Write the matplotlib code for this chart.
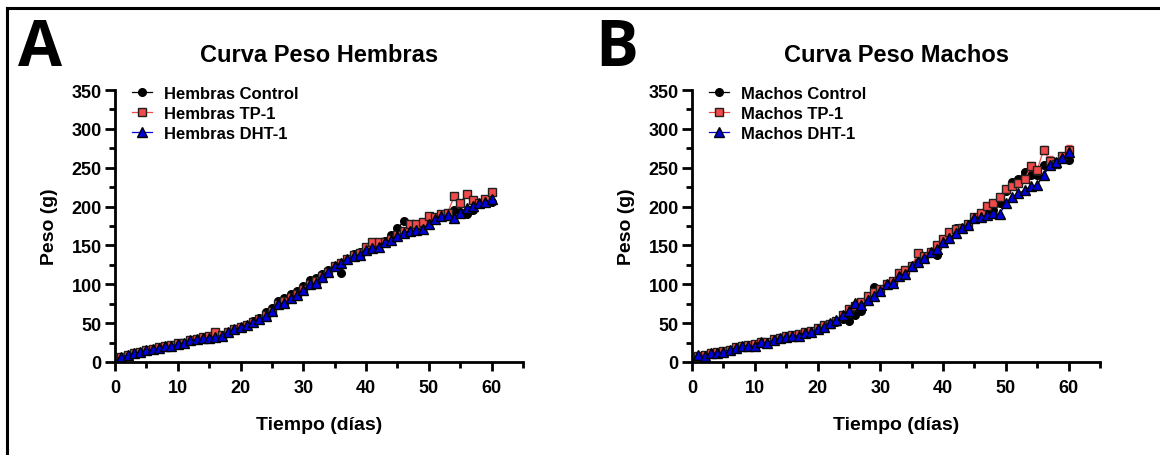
import numpy as np
import matplotlib.pyplot as plt
from matplotlib.lines import Line2D

plt.rcParams['font.family'] = ['Liberation Sans', 'DejaVu Sans']
plt.rcParams['font.weight'] = 'bold'

dias = list(range(1, 61))

# Hembras
hem_control = [7, 9, 11, 13, 15, 17, 18, 20, 22, 23, 25, 28, 29, 31, 32, 33, 35, 38, 42, 45,
               48, 53, 57, 64, 70, 78, 82, 88, 92, 98, 105, 108, 113, 118, 122, 114, 133, 139, 141, 146,
               149, 151, 156, 163, 172, 181, 176, 176, 174, 180, 183, 187, 192, 195, 193, 190, 196, 203, 207, 206]
hem_tp = [7, 9, 12, 13, 15, 17, 19, 20, 22, 24, 25, 28, 30, 32, 34, 38, 35, 38, 42, 45,
          47, 52, 55, 60, 66, 75, 78, 83, 88, 94, 101, 104, 111, 116, 123, 128, 133, 138, 140, 148,
          154, 155, 155, 158, 163, 168, 177, 177, 180, 188, 186, 190, 192, 213, 205, 216, 208, 205, 210, 219]
hem_dht = [7, 9, 11, 13, 15, 17, 18, 20, 21, 23, 25, 28, 29, 31, 31, 32, 34, 38, 42, 45,
           47, 52, 55, 59, 65, 75, 76, 82, 86, 93, 100, 102, 110, 116, 124, 127, 132, 137, 138, 144,
           147, 148, 154, 157, 162, 166, 169, 170, 171, 177, 184, 188, 189, 185, 192, 198, 201, 204, 206, 210]

# Machos
mac_control = [8, 9, 11, 12, 13, 15, 18, 20, 21, 22, 25, 25, 28, 30, 32, 33, 34, 37, 39, 42,
               45, 49, 52, 55, 53, 60, 66, 80, 97, 92, 99, 103, 112, 115, 124, 129, 134, 140, 138, 153,
               161, 173, 172, 177, 186, 189, 194, 196, 205, 220, 231, 236, 245, 240, 240, 253, 258, 257, 263, 260]
mac_tp = [8, 9, 12, 13, 14, 16, 19, 21, 22, 23, 26, 26, 29, 31, 33, 35, 36, 38, 40, 44,
          47, 49, 53, 60, 68, 72, 77, 85, 90, 94, 100, 104, 115, 119, 124, 140, 136, 141, 150, 158,
          167, 171, 173, 178, 186, 192, 201, 204, 212, 222, 226, 230, 235, 252, 247, 273, 259, 255, 265, 273]
mac_tp_err = [0] * 50 + [3, 3, 4, 5, 5, 5, 6, 4, 4, 6]
mac_dht = [9, 8, 11, 12, 13, 15, 18, 20, 21, 21, 26, 25, 28, 31, 32, 34, 34, 37, 39, 42,
           45, 50, 54, 61, 65, 76, 73, 80, 85, 91, 100, 102, 111, 113, 123, 129, 134, 141, 146, 154,
           159, 166, 172, 176, 185, 187, 189, 192, 190, 204, 212, 217, 221, 226, 228, 240, 253, 257, 262, 270]

paneles = [
    ('A', 'Curva Peso Hembras', 'Hembras', hem_control, hem_tp, hem_dht, None),
    ('B', 'Curva Peso Machos', 'Machos', mac_control, mac_tp, mac_dht, mac_tp_err),
]

rojo = '#f04a4a'
azul = '#0000d8'

fig = plt.figure(figsize=(11.6, 4.56), dpi=100)

# marco de la figura
fig.add_artist(Line2D([0.006, 1.0], [0.980, 0.980], color='black', lw=2.2))
fig.add_artist(Line2D([0.006, 0.006], [0.0, 0.980], color='black', lw=2.2))

lefts = [115 / 1160, 692 / 1160]
for (letra, titulo, sexo, ctrl, tp, dht, err), left in zip(paneles, lefts):
    ax = fig.add_axes([left, 93 / 456, 408 / 1160, 272 / 456])
    ax.plot(dias, ctrl, color='black', lw=0.9, marker='o', ms=5.5,
            mfc='black', mec='black')
    if err is not None:
        ax.errorbar(dias, tp, yerr=err, fmt='none', ecolor=rojo, capsize=2,
                    elinewidth=1)
    ax.plot(dias, tp, color=rojo, lw=0.9, marker='s', ms=5.5,
            mfc=rojo, mec='#202020', mew=1.0)
    ax.plot(dias, dht, color=azul, lw=0.9, marker='^', ms=6.5,
            mfc=azul, mec='black', mew=1.0)

    handles = [
        Line2D([], [], color='black', lw=0.9, marker='o', ms=5.5, mfc='black', mec='black'),
        Line2D([], [], color=rojo, lw=0.9, marker='s', ms=5.5, mfc=rojo, mec='#202020'),
        Line2D([], [], color=azul, lw=0.9, marker='^', ms=6.5, mfc=azul, mec='black'),
    ]
    labels = [sexo + ' Control', sexo + ' TP-1', sexo + ' DHT-1']

    ax.set_xlim(0, 65)
    ax.set_ylim(0, 350)
    ax.set_xticks(range(0, 61, 10))
    ax.set_xticks(range(5, 66, 10), minor=True)
    ax.set_yticks(range(0, 351, 50))
    ax.set_yticks(range(25, 351, 50), minor=True)
    for s in ['top', 'right']:
        ax.spines[s].set_visible(False)
    for s in ['left', 'bottom']:
        ax.spines[s].set_linewidth(2.0)
    ax.tick_params(which='major', length=7.5, width=2.0, labelsize=13, pad=2)
    ax.tick_params(which='minor', length=4.5, width=2.0)
    ax.tick_params(axis='x', which='major', length=6.5, pad=6)
    for lab in ax.get_xticklabels() + ax.get_yticklabels():
        lab.set_fontweight('bold')

    ax.set_xlabel('Tiempo (días)', fontsize=14, fontweight='bold', labelpad=14)
    ax.set_ylabel('Peso (g)', fontsize=14, fontweight='bold', labelpad=10)
    ax.set_title(titulo, fontsize=17, fontweight='bold', pad=21)

    leg = ax.legend(handles, labels, loc='upper left', bbox_to_anchor=(0.025, 1.04),
                    frameon=False, fontsize=12, handlelength=1.2, handletextpad=0.7,
                    labelspacing=0.3, borderaxespad=0)
    for t in leg.get_texts():
        t.set_fontweight('bold')

    fig.text(left - 97 / 1160, 0.855, letra, fontsize=46, fontweight='bold',
             family=['Open Sans', 'DejaVu Sans'], ha='left', va='baseline')

fig.savefig('out.png', dpi=100)
